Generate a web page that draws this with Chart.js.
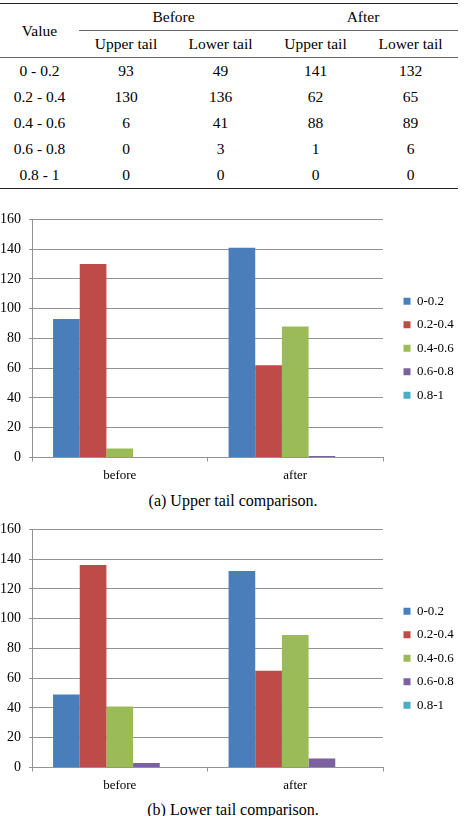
<!DOCTYPE html>
<html>
<head>
<meta charset="utf-8">
<script src="https://cdn.jsdelivr.net/npm/chart.js@4"></script>
<style>
  body { margin: 0; background: #fff; font-family: "Liberation Serif", serif; color: #000; }
  #page { position: relative; width: 466px; height: 816px; overflow: hidden; }
  table { position: absolute; left: 0; top: 3px; width: 458px; border-collapse: collapse; table-layout: fixed; font-size: 15.5px; }
  td { text-align: center; padding: 0; height: 26px; line-height: 26px; }
  table { border-top: 1.5px solid #222; border-bottom: 1.5px solid #222; }
  .grp { border-bottom: 1px solid #666; }
  thead tr:last-child td, .val { border-bottom: 1px solid #666; }
  .box { position: absolute; left: 0; width: 466px; height: 282.5px; }
  .cap { position: absolute; left: 0; width: 466px; text-align: center; font-size: 16px; line-height: 20px; }
</style>
</head>
<body>
<div id="page">
  <table>
    <colgroup><col style="width:79px"><col style="width:94px"><col style="width:95px"><col style="width:95px"><col style="width:95px"></colgroup>
    <thead>
      <tr><td rowspan="2" class="val">Value</td><td colspan="2" class="grp">Before</td><td colspan="2" class="grp">After</td></tr>
      <tr><td>Upper tail</td><td>Lower tail</td><td>Upper tail</td><td>Lower tail</td></tr>
    </thead>
    <tbody id="rows"></tbody>
  </table>

  <div class="box" style="top:202.5px"><canvas id="upper"></canvas></div>
  <div class="cap" style="top:491px">(a) Upper tail comparison.</div>

  <div class="box" style="top:512.5px"><canvas id="lower"></canvas></div>
  <div class="cap" style="top:800px">(b) Lower tail comparison.</div>
</div>

<script>
const ranges = ['0-0.2', '0.2-0.4', '0.4-0.6', '0.6-0.8', '0.8-1'];
const rangeRows = ['0 - 0.2', '0.2 - 0.4', '0.4 - 0.6', '0.6 - 0.8', '0.8 - 1'];
const phases = ['before', 'after'];
const upperBefore = [93, 130, 6, 0, 0];
const lowerBefore = [49, 136, 41, 3, 0];
const upperAfter = [141, 62, 88, 1, 0];
const lowerAfter = [132, 65, 89, 6, 0];
const yTicks = [0, 20, 40, 60, 80, 100, 120, 140, 160];

const colors = ['#4a7ebb', '#be4b48', '#9bbb59', '#7d60a0', '#4bacc6'];
const gridGray = '#939393';
const serif = { family: '"Liberation Serif", serif', size: 13 };

// table rows
const tbody = document.getElementById('rows');
rangeRows.forEach((r, i) => {
  const tr = document.createElement('tr');
  [r, upperBefore[i], lowerBefore[i], upperAfter[i], lowerAfter[i]].forEach(v => {
    const td = document.createElement('td');
    td.textContent = v;
    tr.appendChild(td);
  });
  tbody.appendChild(tr);
});

// legend sits a bit away from the plot, like in the figure
const legendShift = {
  id: 'legendShift',
  afterInit(chart) {
    const legend = chart.legend;
    const fit = legend.fit;
    legend.fit = function () {
      fit.call(this);
      this.width = 83;
    };
  },
  afterLayout(chart) {
    chart.legend.left += 10;
    chart.legend.right += 10;
  }
};

function makeChart(id, before, after) {
  return new Chart(document.getElementById(id), {
    type: 'bar',
    data: {
      labels: phases,
      datasets: ranges.map((r, i) => ({
        label: r,
        data: [before[i], after[i]],
        backgroundColor: colors[i],
        borderWidth: 0
      }))
    },
    options: {
      responsive: true,
      maintainAspectRatio: false,
      animation: false,
      layout: { padding: { top: 8, left: 0, right: 0, bottom: 0 } },
      datasets: { bar: { categoryPercentage: 0.76, barPercentage: 1 } },
      plugins: {
        legend: {
          position: 'right',
          labels: { boxWidth: 7, boxHeight: 7, padding: 10.5, color: '#000', font: serif }
        },
        tooltip: { enabled: false }
      },
      scales: {
        x: {
          grid: { offset: true, drawOnChartArea: false, color: gridGray, tickLength: 4 },
          border: { color: gridGray },
          ticks: { color: '#000', padding: 6, font: serif },
          afterFit(scale) { scale.height = 28; }
        },
        y: {
          min: yTicks[0],
          max: yTicks[yTicks.length - 1],
          afterBuildTicks(scale) { scale.ticks = yTicks.map(v => ({ value: v })); },
          grid: { color: gridGray, tickLength: 3 },
          border: { color: gridGray },
          ticks: { color: '#000', padding: 8, font: { family: serif.family, size: 14 } },
          afterFit(scale) { scale.width = 32; }
        }
      }
    },
    plugins: [legendShift]
  });
}

makeChart('upper', upperBefore, upperAfter);
makeChart('lower', lowerBefore, lowerAfter);
</script>
</body>
</html>
